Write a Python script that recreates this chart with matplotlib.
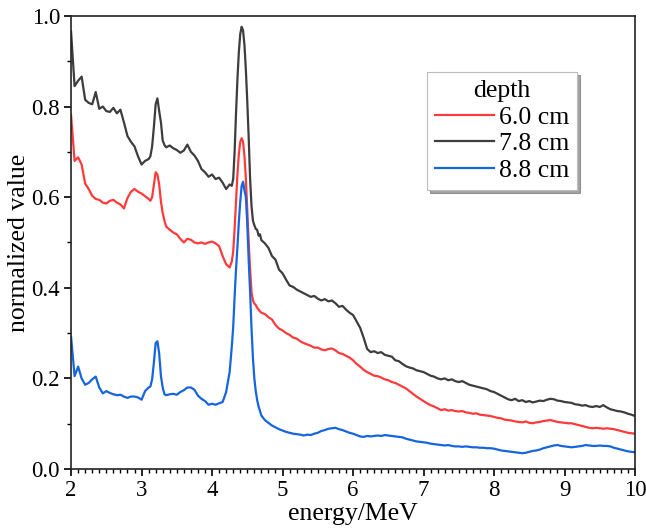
import numpy as np
import matplotlib
matplotlib.use("Agg")
import matplotlib.pyplot as plt
from matplotlib.ticker import MultipleLocator, FormatStrFormatter

plt.rcParams['font.family'] = ['Liberation Serif', 'DejaVu Serif']

# energy grid (MeV), finer around the 3.2 and 4.4 MeV peaks
energy = np.concatenate([
    np.linspace(2.0, 3.1, 23),
    np.linspace(3.125, 3.35, 10),
    np.linspace(3.4, 4.25, 18),
    np.linspace(4.28, 4.68, 21),
    np.linspace(4.7, 10.0, 107),
])

depths = ['6.0 cm', '7.8 cm', '8.8 cm']

# 6.0 cm
red_vals = [
    .781, .680, .688, .672, .630, .618, .603, .596, .594, .588, .586, .592, .594, .588, .584, .575,
    .598, .612, .618, .612, .608, .602, .596,
    .592, .600, .628, .655, .650, .628, .590, .565, .548, .535,
    .528, .522, .518, .508, .500, .508, .506, .500, .498, .500, .497, .500, .502, .498, .492, .470,
    .452, .445,
    .458, .480, .530, .590, .650, .695, .722, .730, .722, .690, .640, .570, .500, .440, .390, .372,
    .365, .362, .356, .352, .348,
    .345, .342, .335, .330, .318, .310, .306, .300, .296, .290,
    .288, .282, .278, .275, .272, .268, .268, .264, .262, .265,
    .266, .262, .256, .254, .250, .246, .240, .232, .226, .219,
    .214, .210, .206, .205, .202, .198, .196, .192, .190, .186,
    .182, .178, .172, .166, .160, .155, .150, .145, .141, .138,
    .134, .130, .132, .129, .130, .128, .127, .128, .125, .124,
    .122, .123, .120, .119, .118, .117, .115, .113, .112, .109,
    .108, .107, .105, .104, .103, .105, .102, .101, .103, .104,
    .106, .107, .108, .106, .104, .103, .102, .101, .101, .099,
    .097, .095, .093, .091, .090, .091, .090, .089, .090, .089,
    .088, .086, .084, .082, .080, .079, .078,
]

# 7.8 cm
gray_vals = [
    .965, .845, .857, .866, .815, .808, .805, .832, .795, .800, .790, .788, .797, .785, .793, .765,
    .735, .722, .712, .690, .672, .680, .684,
    .690, .712, .755, .805, .818, .790, .765, .725, .715, .710,
    .714, .708, .704, .698, .703, .716, .700, .692, .680, .662, .655, .645, .650, .640, .643, .632,
    .618, .628,
    .625, .640, .700, .785, .860, .920, .960, .976, .968, .935, .880, .810, .730, .640, .580, .548,
    .538, .530, .528, .515, .518,
    .505, .498, .488, .470, .462, .440, .432, .418, .405, .402,
    .396, .392, .388, .384, .380, .382, .376, .372, .375, .370,
    .372, .366, .358, .360, .352, .345, .340, .326, .312, .290,
    .265, .258, .260, .256, .258, .252, .250, .248, .240, .238,
    .232, .227, .224, .222, .218, .216, .214, .210, .206, .204,
    .200, .198, .200, .196, .198, .194, .192, .194, .190, .186,
    .184, .182, .180, .178, .176, .172, .170, .166, .162, .158,
    .154, .152, .155, .150, .152, .148, .150, .147, .149, .151,
    .150, .153, .155, .154, .151, .150, .148, .147, .146, .143,
    .142, .140, .141, .138, .137, .139, .137, .141, .136, .132,
    .130, .128, .127, .125, .122, .120, .117,
]

# 8.8 cm
blue_vals = [
    .292, .205, .226, .200, .186, .190, .198, .204, .180, .167, .172, .168, .165, .163, .164, .160,
    .157, .160, .160, .158, .153, .172, .180,
    .182, .198, .235, .278, .282, .255, .205, .180, .165, .163,
    .165, .166, .164, .170, .174, .180, .180, .175, .162, .155, .150, .142, .144, .142, .145, .148,
    .170, .215,
    .270, .314, .380, .440, .490, .545, .590, .625, .634, .615, .600, .540, .460, .390, .310, .245,
    .200, .172, .152, .138, .128,
    .118, .108, .102, .096, .092, .088, .085, .082, .080, .078,
    .077, .076, .074, .076, .075, .078, .080, .084, .086, .089,
    .090, .091, .088, .086, .083, .080, .078, .075, .072, .071,
    .073, .072, .073, .074, .073, .075, .074, .073, .072, .071,
    .070, .067, .065, .063, .061, .060, .059, .058, .056, .055,
    .054, .053, .052, .053, .051, .050, .050, .049, .050, .049,
    .048, .048, .047, .047, .046, .046, .045, .043, .041, .040,
    .039, .038, .037, .036, .035, .036, .038, .040, .041, .043,
    .046, .048, .050, .052, .053, .051, .050, .049, .048, .049,
    .050, .051, .053, .052, .051, .051, .052, .051, .051, .050,
    .047, .045, .043, .041, .039, .038, .037,
]

colors = ['#ff3a3a', '#3d3d3d', '#1565e0']

fig = plt.figure(figsize=(6.46, 5.30), dpi=100)
ax = fig.add_axes([0.110, 0.115, 0.873, 0.855])

for vals, lab, c in zip([red_vals, gray_vals, blue_vals], depths, colors):
    ax.plot(energy, vals, color=c, lw=1.6, label=lab)

ax.set_xlim(2, 10)
ax.set_ylim(0, 1.0)
ax.xaxis.set_major_locator(MultipleLocator(1))
ax.xaxis.set_minor_locator(MultipleLocator(0.1))
ax.yaxis.set_major_locator(MultipleLocator(0.2))
ax.yaxis.set_minor_locator(MultipleLocator(0.1))
ax.yaxis.set_major_formatter(FormatStrFormatter('%.1f'))
ax.tick_params(which='major', direction='out', length=5, width=1.2, labelsize=16.5, pad=3)
ax.tick_params(which='minor', direction='out', length=3, width=1.0)
for s in ax.spines.values():
    s.set_linewidth(1.2)
    s.set_color('#222222')

ax.set_xlabel('energy/MeV', fontsize=18.5, labelpad=1)
ax.set_ylabel('normalized value', fontsize=18.5, labelpad=1)

leg = ax.legend(title='depth', loc='upper left', bbox_to_anchor=(0.631, 0.876),
                fontsize=18.5, title_fontsize=18.5, frameon=True, fancybox=False,
                shadow=True, handlelength=2.3, handletextpad=0.2,
                labelspacing=0.15, borderpad=0.3, borderaxespad=0)
leg.get_frame().set_edgecolor('#bbbbbb')
leg.get_frame().set_linewidth(0.8)

fig.savefig('out.png', dpi=100)
